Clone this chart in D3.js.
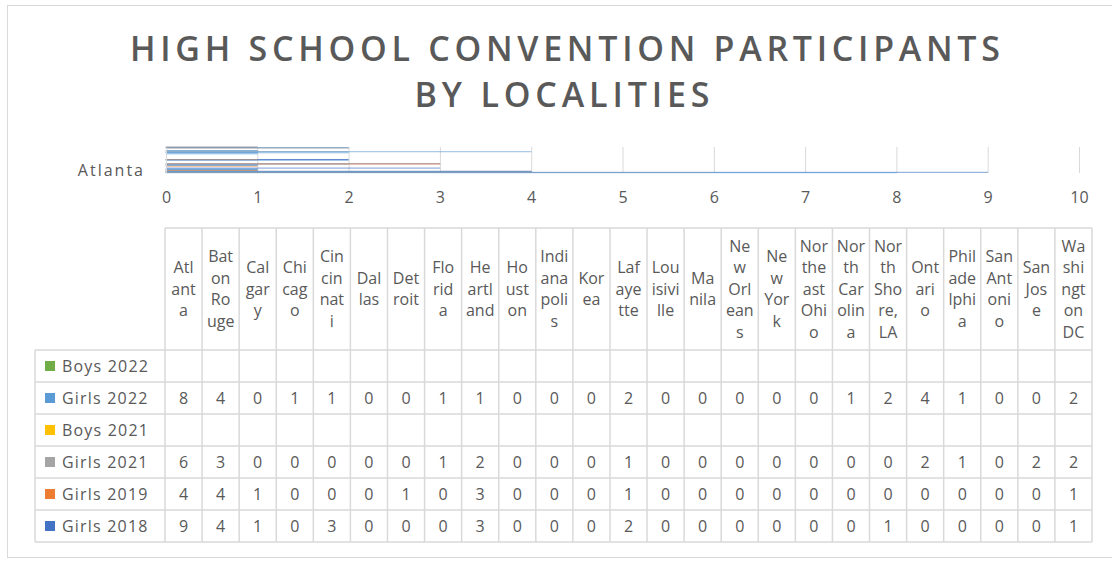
<!DOCTYPE html>
<html>
<head>
<meta charset="utf-8">
<script src="https://cdn.jsdelivr.net/npm/d3@7"></script>
<style>
  body { margin: 0; background: #fff; }
  text { font-family: "Open Sans", sans-serif; fill: #595959; }
</style>
</head>
<body>
<div id="chart"></div>
<script>

// data

  var categories = ["Atlanta", "Baton Rouge", "Calgary", "Chicago", "Cincinnati", "Dallas",
      "Detroit", "Florida", "Heartland", "Houston", "Indianapolis", "Korea", "Lafayette",
      "Louisiville", "Manila", "New Orleans", "New York", "Northeast Ohio", "North Carolina",
      "North Shore, LA", "Ontario", "Philadelphia", "San Antonio", "San Jose", "Washington DC"];

  // header labels as Excel wraps them in the narrow table columns
  var headerLines = [["Atl","ant","a"], ["Bat","on","Ro","uge"], ["Cal","gar","y"],
      ["Chi","cag","o"], ["Cin","cin","nat","i"], ["Dal","las"], ["Det","roit"],
      ["Flo","rid","a"], ["He","artl","and"], ["Ho","ust","on"], ["Indi","ana","poli","s"],
      ["Kor","ea"], ["Laf","aye","tte"], ["Lou","isivi","lle"], ["Ma","nila"],
      ["Ne","w","Orl","ean","s"], ["Ne","w","Yor","k"], ["Nor","the","ast","Ohi","o"],
      ["Nor","th","Car","olin","a"], ["Nor","th","Sho","re,","LA"], ["Ont","ari","o"],
      ["Phil","ade","lphi","a"], ["San","Ant","oni","o"], ["San","Jos","e"],
      ["Wa","shi","ngt","on","DC"]];

  var girls2018 = [9, 4, 1, 0, 3, 0, 0, 0, 3, 0, 0, 0, 2, 0, 0, 0, 0, 0, 0, 1, 0, 0, 0, 0, 1];
  var girls2019 = [4, 4, 1, 0, 0, 0, 1, 0, 3, 0, 0, 0, 1, 0, 0, 0, 0, 0, 0, 0, 0, 0, 0, 0, 1];
  var girls2021 = [6, 3, 0, 0, 0, 0, 0, 1, 2, 0, 0, 0, 1, 0, 0, 0, 0, 0, 0, 0, 2, 1, 0, 2, 2];
  var boys2021  = [];
  var girls2022 = [8, 4, 0, 1, 1, 0, 0, 1, 1, 0, 0, 0, 2, 0, 0, 0, 0, 0, 1, 2, 4, 1, 0, 0, 2];
  var boys2022  = [];

  var xTicks = [0, 1, 2, 3, 4, 5, 6, 7, 8, 9, 10];

  var series = [
    {name: "Girls 2018", values: girls2018, color: "#4472C4"},
    {name: "Girls 2019", values: girls2019, color: "#ED7D31"},
    {name: "Girls 2021", values: girls2021, color: "#A5A5A5"},
    {name: "Boys 2021",  values: boys2021,  color: "#FFC000"},
    {name: "Girls 2022", values: girls2022, color: "#5B9BD5"},
    {name: "Boys 2022",  values: boys2022,  color: "#70AD47"}
  ];

// layout

  var w = 1112;
  var h = 561;
  var plot = {left: 166, right: 1079, top: 147, bottom: 173};
  var table = {left: 165, right: 1092, top: 228, headBottom: 350, bottom: 542, legendLeft: 35};
  var grid = "#d9d9d9";

  var svg = d3.select("#chart")
    .append("svg")
      .attr("width", w)
      .attr("height", h);

  // chart frame (right/bottom edges run off the picture)
  svg.append("rect")
      .attr("x", 7.5)
      .attr("y", 5.5)
      .attr("width", 1200)
      .attr("height", 552)
      .attr("fill", "none")
      .attr("stroke", grid);

// title

  svg.append("text")
      .attr("x", 565)
      .attr("y", 61)
      .attr("text-anchor", "middle")
      .attr("textLength", 870)
      .attr("lengthAdjust", "spacing")
      .style("font-size", "34px")
      .style("font-weight", 600)
      .text("HIGH SCHOOL CONVENTION PARTICIPANTS");

  svg.append("text")
      .attr("x", 562)
      .attr("y", 107)
      .attr("text-anchor", "middle")
      .attr("textLength", 295)
      .attr("lengthAdjust", "spacing")
      .style("font-size", "34px")
      .style("font-weight", 600)
      .text("BY LOCALITIES");

// scales

  var xScale = d3.scaleLinear()
      .domain([0, 10])
      .range([plot.left, plot.right]);

  // first category at the bottom, like an Excel bar chart
  var yScale = d3.scaleBand()
      .domain(categories)
      .range([plot.bottom, plot.top])
      .paddingInner(0.2);

  var ySub = d3.scaleBand()
      .domain(series.map(s => s.name))
      .range([0, yScale.bandwidth()]);

// gridlines

  svg.append("g")
      .attr("class", "grid")
      .attr("transform", `translate(0, ${plot.bottom})`)
      .call(d3.axisBottom(xScale).tickValues(xTicks).tickSize(-(plot.bottom - plot.top)).tickFormat(""))
      .call(g => g.select(".domain").remove())
      .call(g => g.selectAll("line").attr("stroke", grid));

// bars

  var barG = svg.append("g");

  series.forEach(function(s) {
    barG.selectAll(null)
        .data(s.values.map((v, i) => ({cat: categories[i], v: v})))
      .enter().append("rect")
        .attr("x", xScale(0))
        .attr("y", d => yScale(d.cat) + ySub(s.name))
        .attr("width", d => xScale(d.v) - xScale(0))
        .attr("height", ySub.bandwidth())
        .attr("fill", s.color)
        .attr("stroke", s.color)
        .attr("stroke-width", 0.6)
        .attr("stroke-opacity", 0.8);
  });

// axes

  svg.append("g")
      .attr("transform", `translate(0, ${plot.bottom})`)
      .call(d3.axisBottom(xScale).tickValues(xTicks).tickSize(0).tickPadding(19))
      .call(g => g.select(".domain").remove())
      .call(g => g.selectAll("text").style("font-size", "16px").attr("fill", "#595959")
          .style("font-family", "Open Sans, sans-serif"));

  // only the first label fits in the squeezed category axis
  svg.append("g")
      .attr("transform", `translate(${plot.left}, 0)`)
      .call(d3.axisLeft(yScale).tickValues([categories[0]]).tickSize(0).tickPadding(21))
      .call(g => g.select(".domain").attr("stroke", grid))
      .call(g => g.selectAll("text").style("font-size", "16px").attr("fill", "#595959")
          .style("font-family", "Open Sans, sans-serif").style("letter-spacing", "2px")
          .attr("dy", "0.2em"));

// data table

  var colScale = d3.scaleBand()
      .domain(categories)
      .range([table.left, table.right]);

  var tableRows = series.slice().reverse();

  var rowScale = d3.scaleBand()
      .domain(tableRows.map(s => s.name))
      .range([table.headBottom, table.bottom]);

  var tg = svg.append("g")
      .attr("class", "table")
      .attr("stroke", grid)
      .attr("stroke-width", 1.5)
      .attr("fill", "none");

  // horizontal lines
  tg.append("line")
      .attr("x1", table.left).attr("x2", table.right)
      .attr("y1", table.top).attr("y2", table.top);
  tableRows.forEach(function(s) {
    tg.append("line")
        .attr("x1", table.legendLeft).attr("x2", table.right)
        .attr("y1", rowScale(s.name)).attr("y2", rowScale(s.name));
  });
  tg.append("line")
      .attr("x1", table.legendLeft).attr("x2", table.right)
      .attr("y1", table.bottom).attr("y2", table.bottom);

  // vertical lines
  categories.forEach(function(c) {
    tg.append("line")
        .attr("x1", colScale(c)).attr("x2", colScale(c))
        .attr("y1", table.top).attr("y2", table.bottom);
  });
  tg.append("line")
      .attr("x1", table.right).attr("x2", table.right)
      .attr("y1", table.top).attr("y2", table.bottom);
  tg.append("line")
      .attr("x1", table.legendLeft).attr("x2", table.legendLeft)
      .attr("y1", table.headBottom).attr("y2", table.bottom);

  // header labels
  var lineH = 21.5;
  var headMid = (table.top + table.headBottom) / 2;

  svg.append("g").selectAll("text")
      .data(categories)
    .enter().append("text")
      .attr("text-anchor", "middle")
      .style("font-size", "16px")
      .each(function(c, i) {
        var lines = headerLines[i];
        var y0 = headMid - (lines.length - 1) * lineH / 2;
        d3.select(this).selectAll("tspan")
            .data(lines)
          .enter().append("tspan")
            .attr("x", colScale(c) + colScale.bandwidth() / 2)
            .attr("y", (d, j) => y0 + j * lineH)
            .attr("dy", "0.35em")
            .text(d => d);
      });

  // legend keys and row names
  var leg = svg.append("g").selectAll("g")
      .data(tableRows)
    .enter().append("g")
      .attr("transform", d => `translate(${table.legendLeft}, ${rowScale(d.name) + rowScale.bandwidth() / 2})`);

  leg.append("rect")
      .attr("x", 10)
      .attr("y", -5)
      .attr("width", 10)
      .attr("height", 10)
      .attr("fill", d => d.color);

  leg.append("text")
      .attr("x", 27)
      .attr("dy", "0.35em")
      .style("font-size", "16px")
      .style("letter-spacing", "1.2px")
      .text(d => d.name);

  // cell values
  tableRows.forEach(function(s) {
    svg.append("g").selectAll("text")
        .data(s.values)
      .enter().append("text")
        .attr("x", (d, i) => colScale(categories[i]) + colScale.bandwidth() / 2)
        .attr("y", rowScale(s.name) + rowScale.bandwidth() / 2)
        .attr("dy", "0.35em")
        .attr("text-anchor", "middle")
        .style("font-size", "16px")
        .text(d => d);
  });

</script>
</body>
</html>
